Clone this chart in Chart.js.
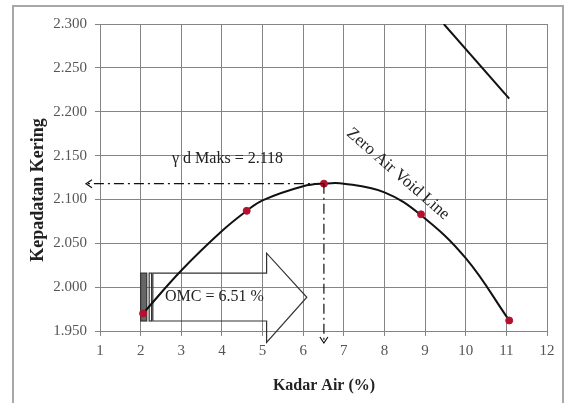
<!DOCTYPE html>
<html>
<head>
<meta charset="utf-8">
<script src="https://cdn.jsdelivr.net/npm/chart.js@4.4.1/dist/chart.umd.min.js"></script>
<style>
  html, body { margin: 0; padding: 0; background: #fff; }
  #wrap { width: 572px; height: 403px; position: relative; }
</style>
</head>
<body>
<div id="wrap"><canvas id="c" width="572" height="403"></canvas></div>
<script>
// Compaction test results: moisture content (%) vs dry density
const moisture = [2.06, 4.61, 6.51, 8.90, 11.07];
const dryDensity = [1.970, 2.087, 2.118, 2.083, 1.962];

// Fitted compaction curve through the test results
const curveX = [2.06, 3.0, 4.0, 4.61, 5.0, 6.0, 6.51, 7.0, 8.0, 8.9, 10.0, 11.07];
const curveY = [1.970, 2.019, 2.064, 2.087, 2.099, 2.115, 2.118, 2.118, 2.108, 2.082, 2.033, 1.962];

// Zero air void line (visible part)
const zavX = [9.46, 11.07];
const zavY = [2.300, 2.215];

// Axis ticks
const xTicks = [1, 2, 3, 4, 5, 6, 7, 8, 9, 10, 11, 12];
const yTicks = [1.950, 2.000, 2.050, 2.100, 2.150, 2.200, 2.250, 2.300];

// Optimum values
const omc = 6.51;
const maxDensity = 2.118;

const SERIF = '"Liberation Serif", "DejaVu Serif", serif';
const GRID = '#858585';

const toPts = (xs, ys) => xs.map((x, i) => ({ x: x, y: ys[i] }));

// Annotation drawing: OMC arrow, dash-dot guides, labels, frame
const annotations = {
  id: 'annotations',
  beforeDraw(chart) {
    const ctx = chart.ctx;
    ctx.save();
    ctx.fillStyle = '#fff';
    ctx.fillRect(0, 0, chart.width, chart.height);
    ctx.restore();
  },
  beforeDatasetsDraw(chart) {
    const ctx = chart.ctx;
    const xs = chart.scales.x, ys = chart.scales.y;
    const X = v => xs.getPixelForValue(v);
    const Y = v => ys.getPixelForValue(v);
    // striped block arrow with OMC label
    const l = X(2.0), s1 = X(2.15), s2 = X(2.21), s3 = X(2.27), b = X(2.30);
    const hx = X(5.10), tip = X(6.09);
    const top = Y(2.016), bot = Y(1.9614), mid = Y(1.9885);
    const hTop = Y(2.0387), hBot = Y(1.937);
    ctx.save();
    ctx.strokeStyle = '#333';
    ctx.lineWidth = 1.2;
    ctx.fillStyle = '#666';
    ctx.fillRect(l, top, s1 - l, bot - top);
    ctx.strokeRect(l, top, s1 - l, bot - top);
    ctx.strokeRect(s2, top, s3 - s2, bot - top);
    ctx.beginPath();
    ctx.moveTo(b, top);
    ctx.lineTo(hx, top);
    ctx.lineTo(hx, hTop);
    ctx.lineTo(tip, mid);
    ctx.lineTo(hx, hBot);
    ctx.lineTo(hx, bot);
    ctx.lineTo(b, bot);
    ctx.closePath();
    ctx.stroke();
    ctx.fillStyle = '#222';
    ctx.font = '16px ' + SERIF;
    ctx.textAlign = 'left';
    ctx.textBaseline = 'middle';
    ctx.fillText('OMC = 6.51 %', X(2.6), mid);
    ctx.restore();
  },
  afterDraw(chart) {
    const ctx = chart.ctx;
    const xs = chart.scales.x, ys = chart.scales.y;
    const X = v => xs.getPixelForValue(v);
    const Y = v => ys.getPixelForValue(v);
    const px = X(omc), py = Y(maxDensity);
    const area = chart.chartArea;
    ctx.save();
    ctx.strokeStyle = '#111';
    ctx.lineWidth = 1.2;
    ctx.setLineDash([10, 4, 2, 4]);
    // horizontal guide to the density axis
    ctx.beginPath();
    ctx.moveTo(px, py);
    ctx.lineTo(area.left - 12, py);
    ctx.stroke();
    // vertical guide to the moisture axis
    ctx.beginPath();
    ctx.moveTo(px, py);
    ctx.lineTo(px, area.bottom + 12);
    ctx.stroke();
    ctx.setLineDash([]);
    // open arrow heads
    ctx.beginPath();
    ctx.moveTo(area.left - 8, py - 4);
    ctx.lineTo(area.left - 14, py);
    ctx.lineTo(area.left - 8, py + 4);
    ctx.moveTo(px - 4, area.bottom + 6);
    ctx.lineTo(px, area.bottom + 12);
    ctx.lineTo(px + 4, area.bottom + 6);
    ctx.stroke();

    ctx.fillStyle = '#222';
    ctx.font = '16px ' + SERIF;
    ctx.textAlign = 'left';
    ctx.textBaseline = 'alphabetic';
    ctx.fillText('\u03b3 d Maks = 2.118', 172, 163);

    ctx.save();
    ctx.translate(398, 174);
    ctx.rotate(41 * Math.PI / 180);
    ctx.textAlign = 'center';
    ctx.textBaseline = 'middle';
    ctx.font = '17px ' + SERIF;
    ctx.fillText('Zero Air Void Line', 0, 0);
    ctx.restore();

    // axis titles
    ctx.font = 'bold 16px ' + SERIF;
    ctx.fillStyle = '#222';
    ctx.textAlign = 'center';
    ctx.textBaseline = 'middle';
    ctx.fillText('Kadar Air (%)', 324, 386);
    ctx.save();
    ctx.translate(38, 190);
    ctx.rotate(-Math.PI / 2);
    ctx.font = 'bold 18px ' + SERIF;
    ctx.fillText('Kepadatan Kering', 0, 0);
    ctx.restore();

    // outer frame
    ctx.strokeStyle = '#a8a8a8';
    ctx.lineWidth = 2;
    ctx.strokeRect(13, 6, 550, 420);
    ctx.restore();
  }
};

new Chart(document.getElementById('c'), {
  type: 'scatter',
  data: {
    datasets: [
      {
        label: 'Compaction curve',
        data: toPts(curveX, curveY),
        showLine: true,
        borderColor: '#111',
        borderWidth: 2,
        pointRadius: 0,
        tension: 0.4,
        order: 2
      },
      {
        label: 'Zero air void',
        data: toPts(zavX, zavY),
        showLine: true,
        borderColor: '#111',
        borderWidth: 2,
        pointRadius: 0,
        order: 2
      },
      {
        label: 'Test results',
        data: toPts(moisture, dryDensity),
        showLine: false,
        pointRadius: 3.5,
        pointBackgroundColor: '#b3122e',
        pointBorderColor: '#b3122e',
        order: 1
      }
    ]
  },
  options: {
    responsive: false,
    animation: false,
    layout: { padding: { left: 0, top: 24, right: 25, bottom: 0 } },
    plugins: { legend: { display: false }, tooltip: { enabled: false } },
    scales: {
      x: {
        type: 'linear',
        min: xTicks[0],
        max: xTicks[xTicks.length - 1],
        afterBuildTicks: s => { s.ticks = xTicks.map(v => ({ value: v })); },
        afterFit: s => { s.height = 72; },
        grid: { color: GRID, lineWidth: 1, tickLength: 5 },
        border: { color: GRID, width: 1 },
        ticks: { color: '#555', font: { family: SERIF, size: 15 }, padding: 6, callback: v => String(v) }
      },
      y: {
        type: 'linear',
        min: yTicks[0],
        max: yTicks[yTicks.length - 1],
        afterBuildTicks: s => { s.ticks = yTicks.map(v => ({ value: v })); },
        afterFit: s => { s.width = 100; },
        grid: { color: GRID, lineWidth: 1, tickLength: 5 },
        border: { color: GRID, width: 1 },
        ticks: { color: '#555', font: { family: SERIF, size: 15 }, padding: 8, callback: v => Number(v).toFixed(3) }
      }
    }
  },
  plugins: [annotations]
});
</script>
</body>
</html>
